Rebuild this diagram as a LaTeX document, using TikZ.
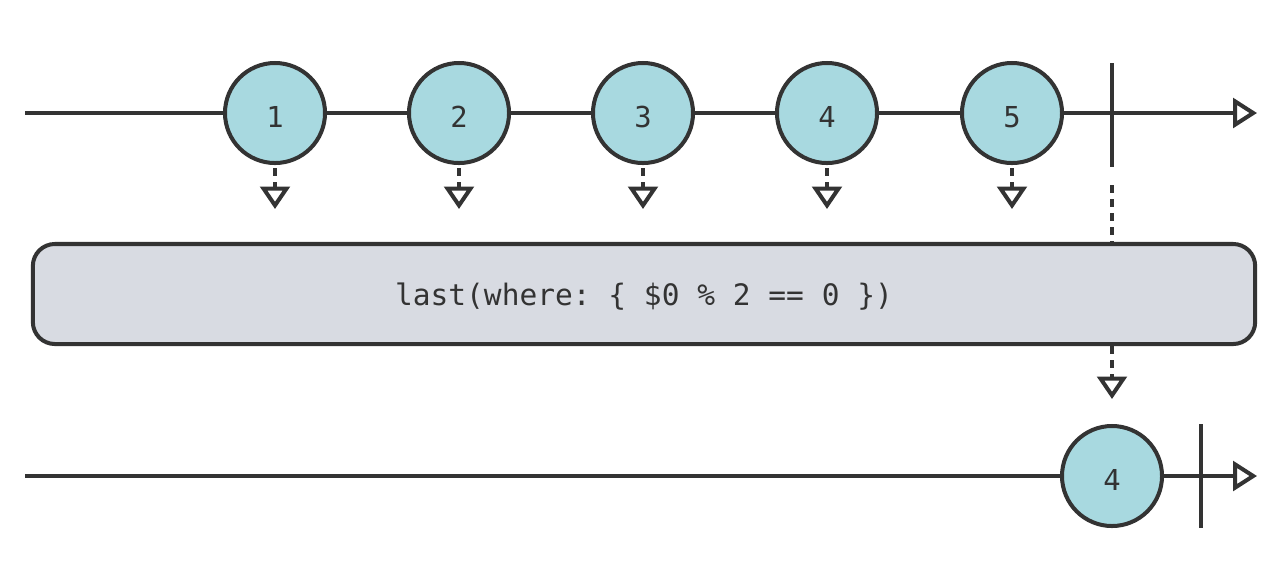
\documentclass[tikz,border=0pt]{standalone}
\usepackage{fontspec}
\setmonofont{DejaVu Sans Mono}
\usetikzlibrary{arrows.meta,calc,positioning}
\definecolor{ink}{HTML}{333333}
\definecolor{marblefill}{HTML}{A8D9E0}
\definecolor{opfill}{HTML}{D8DBE2}
\tikzset{
  timeline/.style={line width=2.85pt, draw=ink, -{Triangle[open, length=17pt, width=21pt]}},
  marble/.style={circle, draw=ink, line width=2.85pt, fill=marblefill, minimum size=2.5cm,
    inner sep=0pt, text=ink, text height=20.5pt, text depth=0pt, font=\ttfamily\fontsize{20.5}{24}\selectfont},
  operator/.style={rectangle, rounded corners=0.55cm, draw=ink, line width=2.85pt, fill=opfill,
    minimum width=30.55cm, minimum height=2.5cm, text=ink, text height=18pt, text depth=1.4pt,
    font=\ttfamily\fontsize{21}{24}\selectfont},
  endtick/.style={line width=2.85pt, draw=ink},
  flow/.style={line width=2.85pt, draw=ink, dash pattern=on 5.7pt off 4.3pt},
  emit/.style={flow, -{Triangle[open, length=16pt, width=21pt]}},
}
\begin{document}
\begin{tikzpicture}[x=0.025cm, y=-0.025cm]
  \useasboundingbox (0,0) rectangle (1280,562);

  % Source timeline
  \coordinate (srcstart) at (25,113);
  \coordinate (srcend) at (1257,113);
  \draw[timeline] (srcstart) -- (srcend);
  \foreach \v/\x in {1/275,2/459,3/643,4/827,5/1012}{
    \node[marble] (m\v) at (\x,113) {\v};
    \draw[emit] ($(m\v.south)+(0,3)$) -- ++(0,41);
  }

  % Completion of source
  \coordinate (donetop) at (1112,63);
  \coordinate (donebot) at (1112,167);
  \draw[endtick] (donetop) -- (donebot);

  % Operator
  \node[operator] (op) at (644,294) {last(where: \{ \$0 \% 2 == 0 \})};
  \draw[flow] ($(donebot)+(0,18)$) -- (donebot |- op.north);
  \draw[emit] (donebot |- op.south) -- ++(0,53);

  % Result timeline
  \coordinate (resstart) at (25,476);
  \coordinate (resend) at (1257,476);
  \draw[timeline] (resstart) -- (resend);
  \node[marble] (r4) at (1112,476) {4};
  \coordinate (rtop) at (1201,424);
  \coordinate (rbot) at (1201,528);
  \draw[endtick] (rtop) -- (rbot);
\end{tikzpicture}
\end{document}
